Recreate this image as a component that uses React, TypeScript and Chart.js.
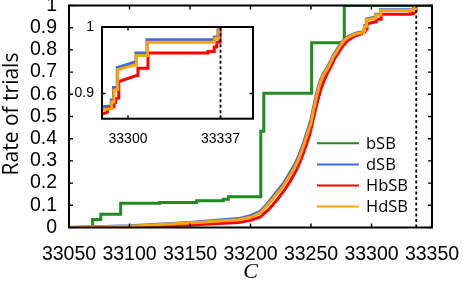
import { useEffect, useRef } from "react";
import { Chart, registerables } from "chart.js";

Chart.register(...registerables);

const W = 463;
const H = 289;

const seriesNames = ["bSB", "dSB", "HbSB", "HdSB"];
const seriesColors = ["#228B22", "#4169E1", "#FF0000", "#FFA500"];

// bSB: step function (value jumps to y at x)
const bSB: [number, number][] = [
  [33050, 0], [33069.5, 0.036], [33076.3, 0.06], [33092.7, 0.109], [33125, 0.113],
  [33155.5, 0.12], [33177.5, 0.127], [33181.7, 0.139], [33208.5, 0.434],
  [33211, 0.605], [33250.5, 0.832], [33277.5, 1.0], [33350, 1.0],
];

const dSB: [number, number][] = [
  [33050, 0], [33100, 0.008], [33150, 0.023], [33190, 0.04], [33200, 0.053], [33208, 0.073],
  [33214, 0.108], [33220, 0.15], [33227, 0.197], [33232, 0.242], [33236, 0.278], [33240, 0.325],
  [33244, 0.385], [33247, 0.435], [33250, 0.487], [33253, 0.565], [33255, 0.613], [33257.5, 0.66],
  [33260, 0.692], [33263, 0.717], [33266, 0.748], [33268.5, 0.776], [33271, 0.797], [33273, 0.816],
  [33275.5, 0.835], [33279, 0.854], [33282, 0.864], [33286, 0.873], [33290, 0.88], [33293.3, 0.881],
  [33293.3, 0.89], [33294.2, 0.89], [33294.2, 0.909], [33295.7, 0.909], [33295.7, 0.939],
  [33302.5, 0.947], [33303.2, 0.947], [33303.2, 0.961], [33307.6, 0.961], [33307.6, 0.981],
  [33334.5, 0.981], [33334.5, 0.985], [33336, 0.985], [33336, 1.0],
];

const HbSB: [number, number][] = [
  [33050, 0], [33100, 0.003], [33150, 0.011], [33190, 0.022], [33200, 0.032], [33208, 0.048],
  [33215, 0.08], [33222, 0.125], [33228, 0.168], [33233, 0.21], [33238, 0.26], [33242, 0.31],
  [33246, 0.37], [33249, 0.42], [33252, 0.49], [33255, 0.56], [33258, 0.62], [33261, 0.665],
  [33264, 0.7], [33267, 0.73], [33270, 0.765], [33273, 0.79], [33276, 0.815], [33280, 0.84],
  [33284, 0.855], [33288, 0.866], [33291.8, 0.872], [33291.8, 0.878], [33294.4, 0.88],
  [33294.4, 0.885], [33295, 0.886], [33295, 0.892], [33296.3, 0.893], [33296.3, 0.918],
  [33303.4, 0.927], [33304, 0.927], [33304, 0.938], [33308, 0.938], [33308, 0.961],
  [33332, 0.961], [33332, 0.963], [33334.5, 0.963], [33334.5, 0.97], [33335.5, 0.97],
  [33335.5, 0.977], [33336.8, 0.977], [33336.8, 1.0],
];

const HdSB: [number, number][] = [
  [33050, 0], [33100, 0.006], [33150, 0.02], [33190, 0.035], [33200, 0.046], [33208, 0.065],
  [33214, 0.1], [33220, 0.14], [33227, 0.186], [33232, 0.23], [33236, 0.265], [33240, 0.31],
  [33244, 0.37], [33247, 0.42], [33250, 0.47], [33253, 0.55], [33255, 0.6], [33257.5, 0.65],
  [33260, 0.685], [33263, 0.71], [33266, 0.74], [33268.5, 0.77], [33271, 0.79], [33273, 0.81],
  [33275.5, 0.83], [33279, 0.85], [33282, 0.86], [33286, 0.87], [33290, 0.876], [33293.5, 0.877],
  [33293.5, 0.887], [33294.4, 0.887], [33294.4, 0.905], [33295.9, 0.906], [33295.9, 0.936],
  [33302.7, 0.943], [33303.4, 0.943], [33303.4, 0.957], [33307.8, 0.957], [33307.8, 0.977],
  [33334.7, 0.977], [33334.7, 0.983], [33336.3, 0.983], [33336.3, 1.0],
];

const seriesData = [bSB, dSB, HbSB, HdSB];
const seriesStepped = [true, false, false, false];

const xTicks = [33050, 33100, 33150, 33200, 33250, 33300, 33350];
const yTicks = [0, 0.1, 0.2, 0.3, 0.4, 0.5, 0.6, 0.7, 0.8, 0.9, 1];
const insetXTicks = [33300, 33337];
const insetYTicks = [0.9, 1];
const markerX = 33337;
const xTitle = "C";
const yTitle = "Rate of trials";

const SANS = "'Liberation Sans', Arial, sans-serif";
const UI = "'Open Sans', 'Noto Sans', sans-serif";

function makeDatasets(indices: number[]) {
  return indices.map((i) => ({
    label: seriesNames[i],
    data: seriesData[i].map(([x, y]) => ({ x, y })),
    borderColor: seriesColors[i],
    backgroundColor: seriesColors[i],
    borderWidth: 3,
    pointRadius: 0,
    stepped: seriesStepped[i],
    fill: false,
    tension: 0,
    // later series drawn on top (lower order = drawn last)
    order: seriesNames.length - i,
  }));
}

function drawFrame(chart: any, tickLen: number, borderW: number) {
  const { ctx, chartArea: a, scales } = chart;
  const x = scales.x;
  const y = scales.y;
  ctx.save();
  const mx = x.getPixelForValue(markerX);
  ctx.strokeStyle = "#000";
  ctx.lineWidth = 1.8;
  ctx.setLineDash([3, 2.5]);
  ctx.beginPath();
  ctx.moveTo(mx, a.bottom);
  ctx.lineTo(mx, a.top);
  ctx.stroke();
  ctx.setLineDash([]);
  ctx.lineWidth = 1.4;
  ctx.beginPath();
  for (const t of x.ticks) {
    const px = x.getPixelForValue(t.value);
    ctx.moveTo(px, a.bottom);
    ctx.lineTo(px, a.bottom - tickLen);
    ctx.moveTo(px, a.top);
    ctx.lineTo(px, a.top + tickLen);
  }
  for (const t of y.ticks) {
    const py = y.getPixelForValue(t.value);
    ctx.moveTo(a.left, py);
    ctx.lineTo(a.left + tickLen, py);
    ctx.moveTo(a.right, py);
    ctx.lineTo(a.right - tickLen, py);
  }
  ctx.stroke();
  ctx.lineWidth = borderW;
  ctx.strokeRect(a.left, a.top, a.right - a.left, a.bottom - a.top);
  ctx.restore();
}

const mainPlugin = {
  id: "mainFrame",
  afterDatasetsDraw(chart: any) {
    drawFrame(chart, 4, 2);
    const { ctx, chartArea: a } = chart;
    ctx.save();
    const rowTop = 143.3;
    const rowGap = 21.1;
    chart.data.datasets.forEach((ds: any, i: number) => {
      const yy = rowTop + i * rowGap;
      ctx.strokeStyle = ds.borderColor;
      ctx.lineWidth = 2;
      ctx.beginPath();
      ctx.moveTo(317, yy);
      ctx.lineTo(359, yy);
      ctx.stroke();
      ctx.fillStyle = "#000";
      ctx.font = `16.5px ${UI}`;
      ctx.textAlign = "left";
      ctx.textBaseline = "middle";
      ctx.fillText(ds.label, 366, yy + 1);
    });
    ctx.fillStyle = "#000";
    ctx.font = `italic 22px 'Liberation Serif', 'DejaVu Serif', serif`;
    ctx.textAlign = "center";
    ctx.textBaseline = "middle";
    ctx.fillText(xTitle, (a.left + a.right) / 2, 272);
    ctx.translate(12, 114);
    ctx.rotate(-Math.PI / 2);
    ctx.font = `21px ${UI}`;
    ctx.fillText(yTitle, 0, 0);
    ctx.restore();
  },
};

const insetPlugin = {
  id: "insetFrame",
  beforeDatasetsDraw(chart: any) {
    const { ctx, chartArea: a } = chart;
    ctx.save();
    ctx.fillStyle = "#fff";
    ctx.fillRect(a.left - 1, a.top - 1, a.right - a.left + 2, a.bottom - a.top + 2);
    ctx.restore();
  },
  afterDatasetsDraw(chart: any) {
    drawFrame(chart, 3.5, 2);
  },
};

function mainConfig(): any {
  return {
    type: "line",
    data: { datasets: makeDatasets([0, 1, 2, 3]) },
    options: {
      responsive: false,
      animation: false,
      events: [],
      layout: { padding: { left: 0, right: 31, top: 5.5, bottom: 0 } },
      plugins: { legend: { display: false }, tooltip: { enabled: false } },
      scales: {
        x: {
          type: "linear",
          min: 33050,
          max: 33350,
          afterBuildTicks: (s: any) => {
            s.ticks = xTicks.map((v) => ({ value: v }));
          },
          afterFit: (s: any) => {
            s.height = 61.5;
            s.paddingLeft = 0;
            s.paddingRight = 0;
          },
          grid: { display: false, drawTicks: false },
          border: { display: false },
          ticks: {
            autoSkip: false,
            maxRotation: 0,
            minRotation: 0,
            padding: 15,
            color: "#000",
            font: { family: SANS, size: 19.5 },
            callback: (v: any) => String(v),
          },
        },
        y: {
          type: "linear",
          min: 0,
          max: 1,
          afterBuildTicks: (s: any) => {
            s.ticks = yTicks.map((v) => ({ value: v }));
          },
          afterFit: (s: any) => {
            s.width = 69;
            s.paddingTop = 0;
            s.paddingBottom = 0;
          },
          grid: { display: false, drawTicks: false },
          border: { display: false },
          ticks: {
            autoSkip: false,
            padding: 12,
            color: "#000",
            font: { family: SANS, size: 19.5 },
            callback: (v: any) => String(v),
          },
        },
      },
    },
    plugins: [mainPlugin],
  };
}

function insetConfig(): any {
  return {
    type: "line",
    data: { datasets: makeDatasets([1, 2, 3]) },
    options: {
      responsive: false,
      animation: false,
      events: [],
      layout: { padding: { left: 0, right: W - 253, top: 27, bottom: 0 } },
      plugins: { legend: { display: false }, tooltip: { enabled: false } },
      scales: {
        x: {
          type: "linear",
          min: 33289.6,
          max: 33350,
          afterBuildTicks: (s: any) => {
            s.ticks = insetXTicks.map((v) => ({ value: v }));
          },
          afterFit: (s: any) => {
            s.height = H - 118.7;
            s.paddingLeft = 0;
            s.paddingRight = 0;
          },
          grid: { display: false, drawTicks: false },
          border: { display: false },
          ticks: {
            autoSkip: false,
            maxRotation: 0,
            minRotation: 0,
            padding: 12,
            color: "#000",
            font: { family: SANS, size: 14 },
            callback: (v: any) => String(v),
          },
        },
        y: {
          type: "linear",
          min: 0.862,
          max: 1,
          afterBuildTicks: (s: any) => {
            s.ticks = insetYTicks.map((v) => ({ value: v }));
          },
          afterFit: (s: any) => {
            s.width = 102;
            s.paddingTop = 0;
            s.paddingBottom = 0;
          },
          grid: { display: false, drawTicks: false },
          border: { display: false },
          ticks: {
            autoSkip: false,
            padding: 8,
            color: "#000",
            font: { family: SANS, size: 14 },
            callback: (v: any) => String(v),
          },
        },
      },
    },
    plugins: [insetPlugin],
  };
}

export default function App() {
  const mainRef = useRef<HTMLCanvasElement>(null);
  const insetRef = useRef<HTMLCanvasElement>(null);
  useEffect(() => {
    const main = new Chart(mainRef.current as HTMLCanvasElement, mainConfig());
    const inset = new Chart(insetRef.current as HTMLCanvasElement, insetConfig());
    return () => {
      main.destroy();
      inset.destroy();
    };
  }, []);
  return (
    <div style={{ position: "fixed", left: 0, top: 0, width: W, height: H, background: "#fff" }}>
      <canvas ref={mainRef} width={W} height={H} style={{ position: "absolute", left: 0, top: 0 }} />
      <canvas ref={insetRef} width={W} height={H} style={{ position: "absolute", left: 0, top: 0 }} />
    </div>
  );
}
